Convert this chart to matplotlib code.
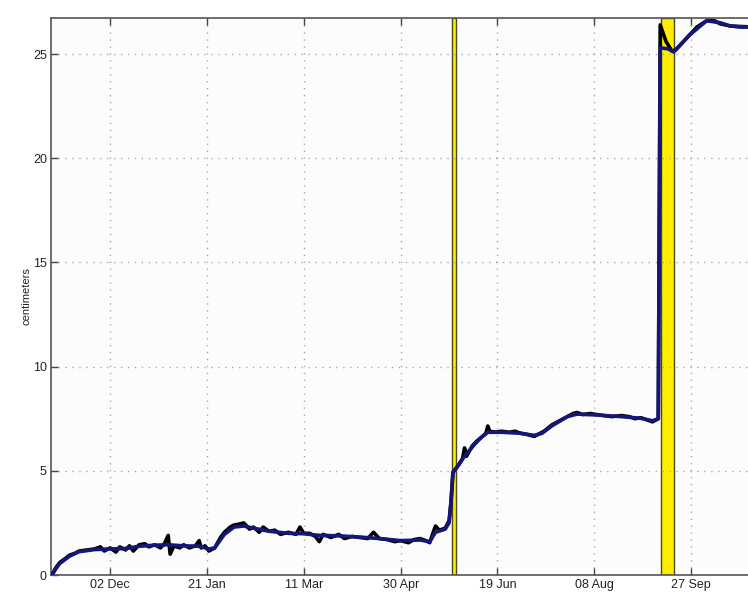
import matplotlib
matplotlib.use('Agg')
import matplotlib.pyplot as plt
import matplotlib.dates as mdates
import pandas as pd

# raw series (black)
raw_dates = ['2011-11-02', '2011-11-04', '2011-11-06', '2011-11-09', '2011-11-11', '2011-11-14',
             '2011-11-16', '2011-11-20', '2011-11-24', '2011-11-27', '2011-11-29', '2011-12-02',
             '2011-12-05', '2011-12-07', '2011-12-10', '2011-12-12', '2011-12-14', '2011-12-17',
             '2011-12-20', '2011-12-22', '2011-12-25', '2011-12-28', '2011-12-30', '2012-01-01',
             '2012-01-02', '2012-01-04', '2012-01-07', '2012-01-09', '2012-01-12', '2012-01-15',
             '2012-01-17', '2012-01-18', '2012-01-20', '2012-01-22', '2012-01-25', '2012-01-28',
             '2012-01-30', '2012-02-02', '2012-02-04', '2012-02-07', '2012-02-09', '2012-02-12',
             '2012-02-14', '2012-02-17', '2012-02-19', '2012-02-22', '2012-02-25', '2012-02-28',
             '2012-03-03', '2012-03-07', '2012-03-09', '2012-03-11', '2012-03-14', '2012-03-17',
             '2012-03-19', '2012-03-21', '2012-03-25', '2012-03-29', '2012-04-01', '2012-04-05',
             '2012-04-09', '2012-04-13', '2012-04-16', '2012-04-19', '2012-04-23', '2012-04-27',
             '2012-04-30', '2012-05-04', '2012-05-07', '2012-05-10', '2012-05-13', '2012-05-15',
             '2012-05-17', '2012-05-18', '2012-05-20', '2012-05-23', '2012-05-25', '2012-05-26',
             '2012-05-27', '2012-05-28', '2012-05-30', '2012-06-01', '2012-06-02', '2012-06-03',
             '2012-06-06', '2012-06-08', '2012-06-10', '2012-06-13', '2012-06-14', '2012-06-15',
             '2012-06-18', '2012-06-21', '2012-06-25', '2012-06-28', '2012-07-01', '2012-07-04',
             '2012-07-06', '2012-07-08', '2012-07-10', '2012-07-13', '2012-07-17', '2012-07-21',
             '2012-07-25', '2012-07-28', '2012-07-30', '2012-08-02', '2012-08-06', '2012-08-09',
             '2012-08-13', '2012-08-17', '2012-08-22', '2012-08-26', '2012-08-29', '2012-09-01',
             '2012-09-04', '2012-09-07', '2012-09-10', '2012-09-11', '2012-09-14', '2012-09-17',
             '2012-09-19', '2012-09-22', '2012-09-26', '2012-09-30', '2012-10-05', '2012-10-09',
             '2012-10-12', '2012-10-17', '2012-10-22', '2012-10-28']
raw_cm = [0.0, 0.35, 0.6, 0.8, 0.95, 1.05,
          1.15, 1.2, 1.25, 1.35, 1.15, 1.3,
          1.1, 1.35, 1.2, 1.4, 1.15, 1.45,
          1.5, 1.35, 1.45, 1.3, 1.5, 1.9,
          1.0, 1.4, 1.3, 1.45, 1.3, 1.4,
          1.65, 1.3, 1.4, 1.15, 1.3, 1.8,
          2.05, 2.3, 2.4, 2.45, 2.5, 2.2,
          2.3, 2.05, 2.3, 2.1, 2.15, 1.95,
          2.05, 1.95, 2.3, 2.0, 2.0, 1.85,
          1.6, 1.95, 1.8, 1.95, 1.75, 1.85,
          1.8, 1.75, 2.05, 1.75, 1.7, 1.6,
          1.65, 1.55, 1.7, 1.75, 1.65, 1.55,
          2.1, 2.35, 2.15, 2.25, 2.6, 3.5,
          4.9, 5.05, 5.3, 5.6, 6.1, 5.7,
          6.2, 6.4, 6.55, 6.8, 7.15, 6.9,
          6.85, 6.9, 6.85, 6.9, 6.8, 6.75,
          6.7, 6.65, 6.75, 6.9, 7.2, 7.4,
          7.6, 7.75, 7.8, 7.7, 7.75, 7.7,
          7.65, 7.6, 7.65, 7.6, 7.5, 7.55,
          7.45, 7.35, 7.5, 26.4, 25.6, 25.15,
          25.2, 25.5, 25.9, 26.3, 26.6, 26.6,
          26.45, 26.35, 26.3, 26.3]

# smoothed series (blue)
smooth_dates = ['2011-11-02', '2011-11-04', '2011-11-06', '2011-11-11', '2011-11-16', '2011-11-24',
                '2011-12-02', '2011-12-10', '2011-12-17', '2011-12-25', '2012-01-01', '2012-01-09',
                '2012-01-17', '2012-01-22', '2012-01-25', '2012-01-30', '2012-02-04', '2012-02-09',
                '2012-02-14', '2012-02-22', '2012-03-03', '2012-03-11', '2012-03-19', '2012-03-29',
                '2012-04-09', '2012-04-19', '2012-04-30', '2012-05-10', '2012-05-15', '2012-05-18',
                '2012-05-23', '2012-05-25', '2012-05-26', '2012-05-27', '2012-05-29', '2012-06-02',
                '2012-06-07', '2012-06-10', '2012-06-14', '2012-06-21', '2012-07-01', '2012-07-08',
                '2012-07-12', '2012-07-17', '2012-07-25', '2012-07-30', '2012-08-09', '2012-08-22',
                '2012-09-01', '2012-09-07', '2012-09-10', '2012-09-11', '2012-09-15', '2012-09-18',
                '2012-09-26', '2012-10-05', '2012-10-12', '2012-10-17', '2012-10-28']
smooth_cm = [0.0, 0.3, 0.55, 0.9, 1.12, 1.22,
             1.25, 1.27, 1.38, 1.43, 1.45, 1.4,
             1.38, 1.25, 1.3, 1.95, 2.3, 2.35,
             2.25, 2.1, 2.0, 1.98, 1.9, 1.88,
             1.82, 1.75, 1.65, 1.68, 1.6, 2.05,
             2.2, 2.5, 3.5, 4.95, 5.15, 5.7,
             6.25, 6.55, 6.85, 6.85, 6.8, 6.7,
             6.8, 7.15, 7.6, 7.72, 7.68, 7.6,
             7.52, 7.4, 7.5, 25.3, 25.25, 25.1,
             25.9, 26.6, 26.5, 26.35, 26.3]

# highlighted periods
band_start = ['2012-05-26 18:00', '2012-09-11 12:00']
band_end = ['2012-05-28 12:00', '2012-09-18 06:00']

tick_dates = ['2011-12-02', '2012-01-21', '2012-03-11', '2012-04-30',
              '2012-06-19', '2012-08-08', '2012-09-27']

plt.rcParams['font.family'] = ['Liberation Sans', 'DejaVu Sans']

fig = plt.figure(figsize=(7.48, 5.92), dpi=100)
ax = fig.add_axes([51 / 748, 17 / 592, 708 / 748, 557 / 592])
ax.set_facecolor('#fcfcfc')

for s, e in zip(band_start, band_end):
    ax.axvspan(pd.Timestamp(s), pd.Timestamp(e), facecolor='#ffee00',
               edgecolor='#4a4a18', lw=1.0, zorder=1)

ax.plot(pd.to_datetime(raw_dates), raw_cm, color='black', lw=2.6, zorder=3)
ax.plot(pd.to_datetime(smooth_dates), smooth_cm, color='#16167a', lw=2.6, zorder=4)

ax.set_xlim(pd.Timestamp('2011-11-01 12:00'), pd.Timestamp('2012-11-01'))
ax.set_ylim(0, 26.73)
ax.set_yticks([0, 5, 10, 15, 20, 25])
ax.set_xticks(pd.to_datetime(tick_dates))
ax.xaxis.set_major_formatter(mdates.DateFormatter('%d %b'))

ax.grid(True, linestyle=(0, (1, 4)), color='#a8a8a8', lw=1.0)
ax.tick_params(direction='in', length=5, width=1, colors='#444444', labelsize=9,
               top=True, labelcolor='#222222', pad=3)
for sp in ax.spines.values():
    sp.set_color('#555555')
    sp.set_linewidth(1.2)
ax.set_ylabel('centimeters', fontsize=8, color='#222222', labelpad=1)

fig.savefig('out.png', dpi=100)
